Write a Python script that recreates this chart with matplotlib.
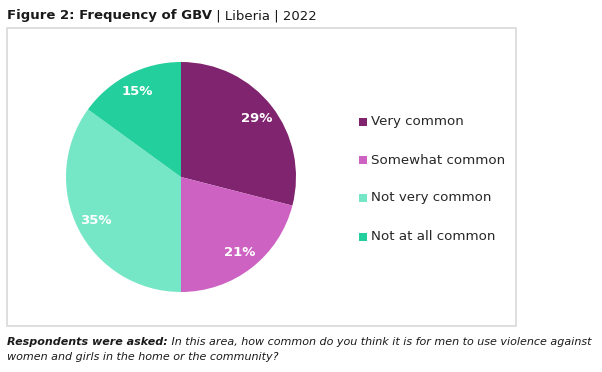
import matplotlib
matplotlib.use("Agg")
import matplotlib.pyplot as plt
from matplotlib.patches import Rectangle

categories = ["Very common", "Somewhat common", "Not very common", "Not at all common"]
shares = [29, 21, 35, 15]
colors = ["#80246F", "#CD62C3", "#76E7C6", "#23CF9C"]

W, H = 602, 372
FONT = "DejaVu Sans"

fig = plt.figure(figsize=(W / 100, H / 100), dpi=100)
fig.patch.set_facecolor("white")


def px(x, y):
    # pixel coords (top-left origin) -> figure fraction
    return x / W, 1 - y / H


# frame around the chart
fig.patches.append(Rectangle(px(7, 326), 509 / W, 298 / H, transform=fig.transFigure,
                             fill=False, edgecolor="#D9D9D9", linewidth=1.2))

# pie
cx, cy, r = 181, 177, 115
ax = fig.add_axes([(cx - r) / W, (H - cy - r) / H, 2 * r / W, 2 * r / H])
wedges, texts, autotexts = ax.pie(shares, colors=colors, startangle=90, counterclock=False,
                                  autopct="%d%%", pctdistance=0.83, radius=1,
                                  textprops=dict(color="white", fontsize=9.5, fontweight="bold",
                                                 family=FONT))
ax.set_xlim(-1, 1)
ax.set_ylim(-1, 1)
ax.set_aspect("auto")
ax.axis("off")

# legend
leg_y = [122, 160, 198, 237]
for cat, col, y in zip(categories, colors, leg_y):
    x0, y0 = px(359, y + 4)
    fig.patches.append(Rectangle((x0, y0), 8 / W, 8 / H, transform=fig.transFigure,
                                 facecolor=col, edgecolor="none"))
    fig.text(*px(371, y), cat, fontsize=9.6, color="#262626", va="center", family=FONT)

renderer = fig.canvas.get_renderer()


def two_part(x, y, bold, rest, size, style, color):
    t = fig.text(*px(x, y), bold, fontsize=size, fontweight="bold", style=style,
                 color=color, va="baseline", family=FONT)
    bb = t.get_window_extent(renderer)
    fig.text(bb.x1 / W, 1 - y / H, rest, fontsize=size, style=style,
             color=color, va="baseline", family=FONT)


two_part(7, 19, "Figure 2: Frequency of GBV", " | Liberia | 2022", 9.5, "normal", "#1A1A1A")
two_part(7, 345, "Respondents were asked:",
         " In this area, how common do you think it is for men to use violence against",
         8.05, "italic", "#1A1A1A")
fig.text(*px(7, 360), "women and girls in the home or the community?", fontsize=8.05,
         style="italic", color="#1A1A1A", va="baseline", family=FONT)

fig.savefig("out.png", dpi=100)
